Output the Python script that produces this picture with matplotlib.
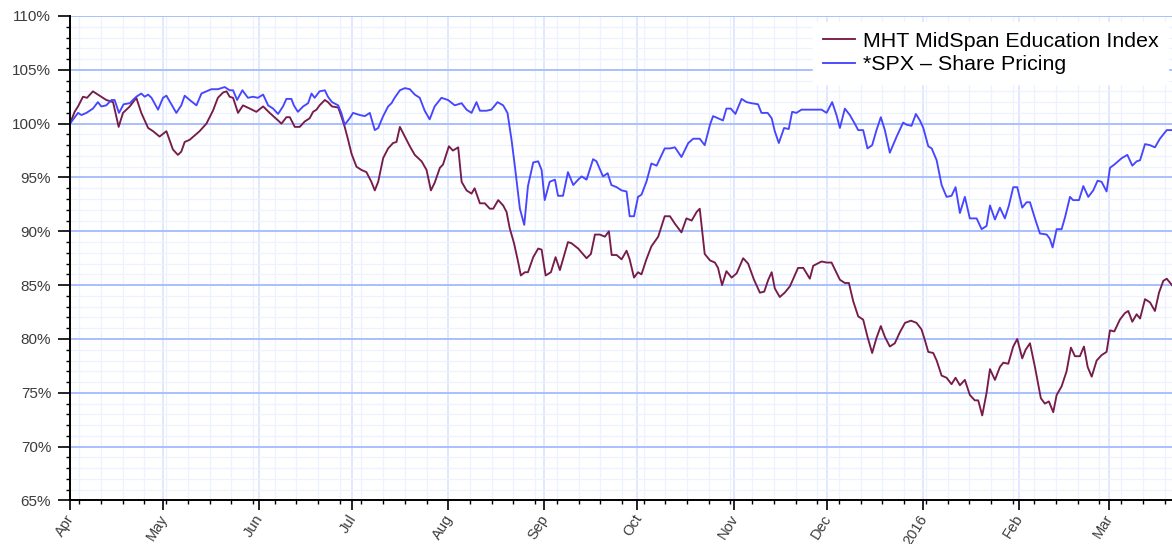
import pandas as pd
import matplotlib
matplotlib.use("Agg")
import matplotlib.pyplot as plt
import matplotlib.dates as mdates
from matplotlib.ticker import MultipleLocator, FuncFormatter

plt.rcParams['font.family'] = ['Liberation Sans', 'DejaVu Sans']

start = pd.Timestamp("2015-04-01")

# days after 1 Apr 2015 and index level (%)
mht_days = [0.0, 1.5, 2.6, 4.2, 5.5, 7.4, 9.0, 11.7, 13.9, 15.7, 17.1, 19.3, 21.4, 23.0, 25.2,
            26.8, 28.9, 31.1, 33.2, 34.8, 35.9, 37.0, 38.6, 40.2, 41.8, 44.0, 46.1, 47.7, 49.4,
            50.5, 51.5, 52.6, 54.2, 55.8, 58.0, 60.1, 62.3, 64.4, 67.1, 68.2, 69.8, 70.9, 72.5,
            74.1, 75.7, 77.3, 78.4, 79.5, 80.5, 82.2, 83.2, 84.5, 86.5, 87.5, 88.6, 89.7, 90.8,
            92.4, 94.0, 95.6, 97.2, 98.3, 99.4, 101.0, 102.6, 104.2, 105.3, 106.4, 108.0, 109.6,
            111.2, 113.4, 115.0, 116.4, 117.6, 119.3, 120.3, 122.2, 123.5, 125.2, 126.3, 127.9,
            129.5, 130.5, 132.2, 133.8, 135.4, 136.5, 138.1, 139.7, 140.8, 141.8, 143.2, 144.5,
            145.4, 146.7, 147.7, 149.4, 151.0, 152.1, 153.4, 155.1, 156.6, 158.0, 160.6, 161.7,
            163.9, 166.6, 168.0, 169.3, 170.9, 172.5, 173.8, 174.7, 176.3, 177.9, 179.5, 180.5,
            181.9, 183.2, 184.3, 185.9, 187.5, 189.7, 191.8, 193.5, 195.1, 197.2, 198.8, 200.5,
            202.1, 203.1, 204.7, 206.4, 208.0, 209.0, 210.3, 211.7, 213.4, 215.0, 217.1, 218.7,
            220.6, 222.5, 223.9, 225.2, 226.3, 227.3, 228.9, 230.5, 232.2, 234.8, 236.5, 238.6,
            239.7, 242.4, 244.0, 245.6, 248.3, 249.9, 251.2, 252.6, 254.2, 255.8, 257.2, 258.7,
            260.1, 261.5, 262.8, 264.4, 266.0, 267.6, 269.3, 271.2, 273.0, 274.6, 275.7, 276.8,
            278.4, 279.5, 281.1, 282.7, 284.3, 285.6, 287.0, 288.6, 290.2, 291.8, 292.9, 294.2,
            295.6, 296.7, 298.3, 299.9, 301.0, 302.6, 304.2, 305.5, 307.1, 308.2, 309.6, 311.2,
            313.1, 314.4, 315.7, 317.1, 318.2, 319.8, 321.4, 322.8, 324.1, 325.7, 327.0, 328.2,
            329.5, 331.1, 332.7, 334.3, 335.4, 336.8, 338.6, 340.2, 341.3, 342.6, 344.0, 345.1,
            346.7, 348.3, 349.9, 351.2, 352.6, 353.7, 355.4]
mht_vals = [100.0, 101.1, 101.6, 102.5, 102.4, 103.0, 102.7, 102.2, 102.0, 99.7, 101.0, 101.6,
            102.4, 101.0, 99.6, 99.3, 98.8, 99.3, 97.6, 97.1, 97.4, 98.3, 98.5, 98.9, 99.3, 100.0,
            101.2, 102.4, 102.9, 103.0, 102.5, 102.4, 101.0, 101.7, 101.4, 101.1, 101.6, 101.0,
            100.3, 100.0, 100.6, 100.6, 99.7, 99.7, 100.2, 100.5, 101.1, 101.3, 101.7, 102.2,
            102.0, 101.6, 101.5, 100.7, 99.7, 98.5, 97.2, 96.0, 95.7, 95.5, 94.6, 93.8, 94.6,
            96.8, 97.7, 98.2, 98.3, 99.7, 98.8, 97.9, 97.1, 96.5, 95.7, 93.8, 94.5, 95.9, 96.2,
            97.9, 97.5, 97.8, 94.6, 93.8, 93.5, 94.0, 92.6, 92.6, 92.1, 92.1, 92.9, 92.4, 91.8,
            90.3, 88.9, 87.2, 85.9, 86.2, 86.2, 87.6, 88.4, 88.3, 85.9, 86.2, 87.6, 86.4, 89.0,
            88.9, 88.4, 87.5, 87.9, 89.7, 89.7, 89.5, 90.0, 87.8, 87.8, 87.4, 88.2, 87.4, 85.7,
            86.2, 86.0, 87.4, 88.6, 89.5, 91.4, 91.4, 90.7, 89.9, 91.2, 91.0, 91.8, 92.1, 87.9,
            87.3, 87.1, 86.6, 85.0, 86.3, 85.7, 86.1, 87.5, 87.0, 85.5, 84.3, 84.4, 85.5, 86.2,
            84.7, 83.9, 84.3, 84.9, 86.6, 86.6, 85.6, 86.8, 87.2, 87.1, 87.1, 85.5, 85.2, 85.2,
            83.5, 82.1, 81.8, 80.2, 78.7, 80.1, 81.2, 80.2, 79.3, 79.6, 80.6, 81.5, 81.7, 81.5,
            80.9, 79.9, 78.8, 78.7, 78.0, 76.6, 76.4, 75.8, 76.4, 75.7, 76.2, 74.8, 74.3, 74.3,
            72.9, 75.0, 77.2, 76.2, 77.4, 77.8, 77.7, 79.3, 80.0, 78.2, 79.0, 79.6, 77.4, 74.5,
            74.0, 74.2, 73.2, 74.8, 75.6, 77.0, 79.2, 78.4, 78.4, 79.3, 77.4, 76.5, 78.0, 78.5,
            78.8, 80.8, 80.7, 81.8, 82.4, 82.6, 81.6, 82.3, 81.9, 83.7, 83.4, 82.6, 84.3, 85.4,
            85.6, 85.0]

spx_days = [0.0, 2.6, 3.7, 5.3, 7.4, 9.0, 10.1, 11.7, 13.4, 14.4, 15.8, 17.3, 19.3, 20.3, 21.4,
            23.0, 24.1, 25.2, 26.3, 28.4, 30.0, 31.1, 32.7, 34.3, 35.9, 37.0, 38.6, 40.8, 42.4,
            44.0, 45.6, 47.7, 49.9, 51.5, 52.6, 53.9, 55.6, 57.4, 59.0, 60.6, 62.3, 63.9, 65.5,
            67.1, 68.7, 69.8, 71.4, 72.2, 73.5, 75.2, 76.8, 77.9, 78.9, 80.5, 82.2, 83.2, 84.5,
            86.5, 87.5, 88.6, 90.2, 91.3, 93.5, 95.1, 96.7, 98.3, 99.4, 101.0, 102.6, 103.7,
            104.7, 106.4, 108.0, 109.6, 111.2, 112.8, 114.4, 116.0, 117.6, 119.8, 121.9, 124.1,
            126.3, 127.9, 129.5, 131.1, 132.2, 134.3, 135.9, 137.9, 139.7, 141.1, 142.4, 143.5,
            145.1, 146.5, 147.7, 149.4, 151.0, 152.1, 153.1, 154.7, 156.4, 157.4, 159.0, 160.6,
            162.3, 163.9, 165.0, 166.6, 168.7, 169.8, 171.9, 173.4, 174.6, 176.3, 177.9, 179.5,
            180.5, 181.9, 183.2, 184.3, 185.9, 187.5, 189.2, 191.8, 193.5, 195.1, 197.2, 199.4,
            201.0, 203.1, 204.7, 206.4, 207.4, 209.0, 210.6, 211.7, 213.1, 214.6, 216.6, 218.2,
            219.8, 221.9, 223.0, 225.0, 226.3, 227.3, 228.6, 230.3, 231.8, 232.9, 234.3, 235.9,
            239.2, 242.4, 244.0, 245.8, 247.2, 248.3, 249.9, 251.5, 253.1, 254.2, 255.8, 257.2,
            258.7, 260.1, 261.5, 262.8, 264.4, 266.6, 268.7, 269.8, 271.4, 272.8, 274.1, 275.2,
            276.8, 277.9, 279.5, 281.1, 282.7, 284.3, 285.6, 287.0, 288.6, 290.2, 292.4, 294.0,
            295.6, 296.7, 298.3, 299.9, 301.5, 302.8, 304.2, 305.5, 307.1, 308.5, 309.6, 311.2,
            312.8, 315.0, 316.0, 316.9, 318.2, 319.8, 320.9, 322.5, 323.5, 325.4, 326.8, 328.4,
            330.0, 331.4, 332.7, 334.3, 335.4, 336.8, 339.2, 341.0, 342.6, 344.0, 345.1, 346.7,
            348.3, 349.9, 351.5, 353.7, 355.4]
spx_vals = [100.0, 101.0, 100.8, 101.0, 101.4, 102.0, 101.6, 101.7, 102.2, 102.2, 101.0, 101.8,
            101.9, 102.2, 102.5, 102.8, 102.5, 102.7, 102.4, 101.3, 102.4, 102.6, 101.8, 101.0,
            101.7, 102.6, 102.2, 101.7, 102.8, 103.0, 103.2, 103.2, 103.4, 103.1, 103.1, 102.2,
            103.1, 102.4, 102.5, 102.4, 102.7, 101.7, 101.4, 100.9, 101.6, 102.3, 102.3, 101.7,
            101.1, 101.6, 101.9, 102.8, 102.4, 103.0, 103.1, 102.5, 102.0, 101.7, 101.0, 99.9,
            100.5, 101.0, 100.8, 100.7, 101.0, 99.4, 99.6, 100.7, 101.6, 101.9, 102.4, 103.1,
            103.3, 103.2, 102.7, 102.4, 101.2, 100.4, 101.6, 102.4, 102.2, 101.7, 101.9, 101.3,
            101.0, 102.0, 101.2, 101.2, 101.3, 102.0, 101.7, 101.0, 98.5, 96.0, 92.1, 90.6, 94.2,
            96.4, 96.5, 95.7, 92.9, 94.6, 94.8, 93.3, 93.3, 95.5, 94.3, 94.8, 95.1, 94.8, 96.7,
            96.5, 95.1, 95.4, 94.3, 94.1, 93.8, 93.7, 91.4, 91.4, 93.2, 93.4, 94.6, 96.3, 96.1,
            97.7, 97.7, 97.8, 96.9, 98.2, 98.6, 98.6, 98.0, 99.9, 100.7, 100.5, 100.3, 101.4,
            101.4, 100.9, 102.3, 102.0, 101.9, 101.8, 101.0, 101.0, 100.5, 99.3, 98.2, 99.6,
            99.5, 101.1, 101.0, 101.3, 101.3, 101.3, 101.0, 102.0, 100.8, 99.6, 101.4, 100.8,
            100.0, 99.4, 99.4, 97.7, 98.0, 99.4, 100.6, 99.4, 97.3, 98.8, 100.1, 99.9, 99.8,
            100.9, 100.3, 99.6, 97.9, 97.7, 96.6, 94.3, 93.2, 93.3, 94.1, 91.7, 93.2, 91.2, 91.2,
            90.2, 90.5, 92.4, 91.1, 92.2, 91.2, 92.4, 94.1, 94.1, 92.2, 92.7, 92.7, 91.2, 89.8,
            89.7, 89.3, 88.5, 90.2, 90.2, 91.3, 93.2, 92.9, 92.9, 94.2, 93.2, 93.8, 94.7, 94.6,
            93.7, 95.9, 96.2, 96.8, 97.1, 96.1, 96.5, 96.6, 98.1, 98.0, 97.8, 98.6, 99.4, 99.4]

mht_dates = start + pd.to_timedelta(mht_days, unit="D")
spx_dates = start + pd.to_timedelta(spx_days, unit="D")

fig = plt.figure(figsize=(11.72, 5.44), dpi=100)
ax = fig.add_axes([0.0597, 0.080, 0.9403, 0.8906])

ax.plot(mht_dates, mht_vals, color="#761c48", lw=1.35, label="MHT MidSpan Education Index")
ax.plot(spx_dates, spx_vals, color="#4646ff", lw=1.35, label="*SPX \u2013 Share Pricing")

ax.set_ylim(65, 110)
ax.set_xlim(start, start + pd.Timedelta(days=355.4))

ax.yaxis.set_major_locator(MultipleLocator(5))
ax.yaxis.set_minor_locator(MultipleLocator(1))
ax.yaxis.set_major_formatter(FuncFormatter(lambda v, p: f"{v:.0f}%"))

ax.xaxis.set_major_locator(mdates.MonthLocator())
ax.xaxis.set_minor_locator(mdates.WeekdayLocator(byweekday=mdates.SA))


def month_fmt(x, pos):
    d = mdates.num2date(x)
    return d.strftime("%Y") if d.month == 1 else d.strftime("%b")


ax.xaxis.set_major_formatter(FuncFormatter(month_fmt))

ax.set_axisbelow(True)
ax.grid(which="minor", color="#eef2ff", lw=0.9)
ax.grid(which="major", axis="x", color="#d6e2ff", lw=1.1)
ax.grid(which="major", axis="y", color="#a9c0ff", lw=1.4)

for s in ["top", "right"]:
    ax.spines[s].set_visible(False)
for s in ["left", "bottom"]:
    ax.spines[s].set_linewidth(1.4)

ax.tick_params(axis="y", which="major", length=8.5, width=1.2, pad=5,
               labelsize=11, labelcolor="#3c3c3c")
ax.tick_params(axis="y", which="minor", length=3, width=1.0)
ax.tick_params(axis="x", which="major", length=7.5, width=1.2, pad=3,
               labelsize=10.5, labelcolor="#3c3c3c")
ax.tick_params(axis="x", which="minor", length=3, width=1.0)
for lab in ax.get_xticklabels():
    lab.set_rotation(58)
    lab.set_ha("right")
    lab.set_va("center_baseline")
    lab.set_rotation_mode("anchor")

leg = ax.legend(loc="upper right", bbox_to_anchor=(0.9964, 0.9876), borderaxespad=0,
                fontsize=15.4, frameon=True, fancybox=False, framealpha=1,
                facecolor="white", edgecolor="white", handlelength=1.5,
                handletextpad=0.35, labelspacing=0.22, borderpad=0.45)

fig.savefig("out.png", dpi=100)
